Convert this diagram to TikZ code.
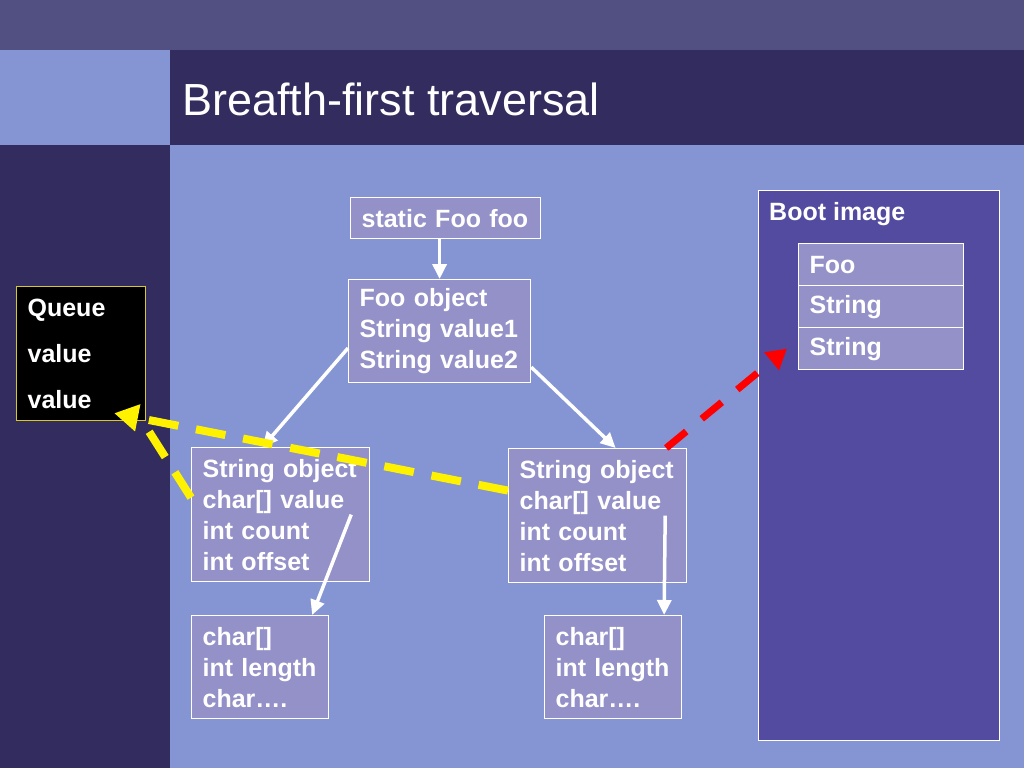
\documentclass[tikz,border=0pt]{standalone}
\usepackage{fontspec}
\setmainfont{Liberation Sans}
\usetikzlibrary{arrows.meta}

\definecolor{topband}{RGB}{82,79,130}
\definecolor{titleband}{RGB}{51,44,94}
\definecolor{lightbg}{RGB}{133,149,212}
\definecolor{boxfill}{RGB}{148,144,200}
\definecolor{bootfill}{RGB}{82,75,160}
\definecolor{queueline}{RGB}{215,200,40}

\begin{document}
\begin{tikzpicture}[
    x=1pt,y=-1pt,
    box/.style={draw=white,line width=1.2pt,fill=boxfill,text=white,anchor=north west,
        align=left,inner xsep=11pt,inner ysep=0pt,
        font=\bfseries\fontsize{25}{31}\selectfont},
    cell/.style={box,text width=143pt,minimum height=42pt},
    link/.style={->,white,line width=3.5pt},
    >={Triangle[length=15pt,width=14pt]}
]
% background
\useasboundingbox (0,0) rectangle (1024,768);
\fill[topband] (0,0) rectangle (1024,50);
\fill[titleband] (170,50) rectangle (1024,145);
\fill[lightbg] (0,50) rectangle (170,145);
\fill[titleband] (0,145) rectangle (170,768);
\fill[lightbg] (170,145) rectangle (1024,768);

\node[anchor=base west,inner sep=0pt,text=white,font=\fontsize{45}{54}\selectfont]
    (title) at (182,115) {Breafth-first traversal};

% queue
\node[box,fill=black,draw=queueline,text width=107pt,minimum height=134pt,
    font=\bfseries\fontsize{25}{46}\selectfont] (queue) at (16,286)
    {Queue\\value\\value};

% boot image
\node[draw=white,line width=1.2pt,fill=bootfill,anchor=north west,inner sep=0pt,
    minimum width=241pt,minimum height=550pt] (boot) at (758,190) {};
\node[anchor=north west,inner sep=0pt,text=white,font=\bfseries\fontsize{25}{31}\selectfont]
    (bootlabel) at (769,202) {Boot image};
\node[cell] (cellfoo) at (798,243) {Foo};
\node[cell] (cellstrA) at (798,285) {String};
\node[cell] (cellstrB) at (798,327) {String};

% objects
\node[box,text width=168pt,minimum height=41pt] (static) at (350,197) {static Foo foo};
\node[box,text width=160pt,minimum height=103pt] (fooobj) at (348,279)
    {Foo object\\String value1\\String value2};
\node[box,text width=156pt,minimum height=134pt] (strL) at (191,447)
    {String object\\char[] value\\int count\\int offset};
\node[box,text width=156pt,minimum height=134pt] (strR) at (508,448)
    {String object\\char[] value\\int count\\int offset};
\node[box,text width=115pt,minimum height=103pt] (charL) at (191,615)
    {char[]\\int length\\char….};
\node[box,text width=115pt,minimum height=103pt] (charR) at (544,615)
    {char[]\\int length\\char….};

% references
\draw[link] (fooobj.north |- static.south) -- (fooobj.north);
\draw[link] ([yshift=-17pt]fooobj.west) -- ([xshift=-18pt]strL.north);
\draw[link] ([yshift=-36pt]fooobj.east) -- ([xshift=18pt]strR.north);
\draw[link] ([xshift=-19pt]strL.east) -- ([xshift=52pt]charL.north);
\draw[link] ([xshift=-22pt]strR.east) -- ([xshift=51pt]charR.north);

% queue and boot image
\draw[yellow,line width=8pt,dash pattern=on 30pt off 18pt,-{Triangle[length=24pt,width=26pt]}]
    ([yshift=25pt]strR.west) -- ([xshift=-32pt,yshift=8pt]queue.south east);
\draw[yellow,line width=8pt,dash pattern=on 30pt off 18pt]
    ([yshift=17pt]strL.west) -- ([xshift=-5pt,yshift=2pt]queue.south east);
\draw[red,line width=7pt,dash pattern=on 26pt off 20pt,-{Triangle[length=20pt,width=22pt]}]
    ([xshift=-21pt]strR.north east) -- ([xshift=-11pt]cellstrB.west);
\end{tikzpicture}
\end{document}
